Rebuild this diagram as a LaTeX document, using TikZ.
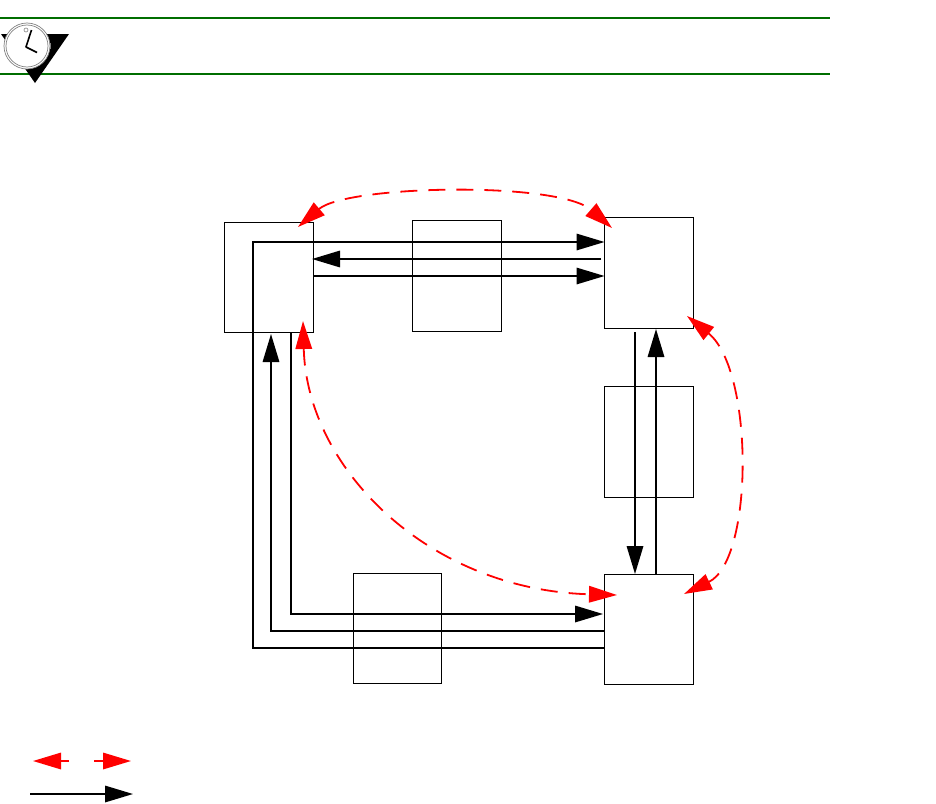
\documentclass[tikz,border=0pt]{standalone}
\usetikzlibrary{arrows.meta}
\definecolor{rulegreen}{RGB}{0,110,0}
\definecolor{clockgray}{RGB}{130,130,130}
\tikzset{
  x=1pt,y=-1pt,
  blockbox/.style={draw=black,line width=0.9pt,fill=none,inner sep=0pt,outer sep=0pt,minimum width=#1},
  flow/.style={draw=black,line width=1.6pt,-{Triangle[length=28pt,width=16.5pt]}},
  ctrl/.style={draw=red,line width=1.8pt,dash pattern=on 17pt off 11pt,{Triangle[length=28pt,width=16.5pt]}-{Triangle[length=28pt,width=16.5pt]}},
  ctrlsolid/.style={draw=red,line width=1.6pt,-{Triangle[length=28pt,width=16.5pt]}},
  greenrule/.style={draw=rulegreen,line width=1.8pt}
}
\begin{document}
\begin{tikzpicture}
\useasboundingbox (0,0) rectangle (936,803);
% header
\coordinate (r1a) at (0,18); \coordinate (r1b) at (830,18);
\coordinate (r2a) at (0,74); \coordinate (r2b) at (830,74);
\draw[greenrule] (r1a) -- (r1b);
\draw[greenrule] (r2a) -- (r2b);
\fill[black] (1,34) -- (69,34) -- (35,83) -- cycle;
\fill[white] (27,46) circle (23);
\draw[clockgray,line width=0.7pt] (27,46) circle (23);
\draw[clockgray,line width=0.7pt] (27,46) circle (21);
\fill[clockgray] (49.5,43) rectangle (51,49);
\draw[clockgray,line width=0.6pt] (26,30) circle (2);
\draw[black,line width=1.6pt,line join=round] (31.5,30) -- (26,47) -- (37,52.5);
% boxes
\node[blockbox=89pt,minimum height=110pt] (A) at (269,277) {};
\node[blockbox=89pt,minimum height=111pt] (B) at (456.5,275.5) {};
\node[blockbox=89pt,minimum height=111pt] (C) at (649,272.5) {};
\node[blockbox=89pt,minimum height=111pt] (D) at (649,441.5) {};
\node[blockbox=88pt,minimum height=110pt] (E) at (397.5,628) {};
\node[blockbox=89pt,minimum height=110pt] (F) at (649,629) {};
% black flows
\draw[flow] (F.west |- 0,648) -- (253,648) -- (253,242) -- (C.west |- 0,242);
\draw[flow] (601,259) -- (312,259);
\draw[flow] (A.east |- 0,276) -- (C.west |- 0,276);
\draw[flow] (635,332) -- (635,574);
\draw[flow] (656,574) -- (656,329);
\draw[flow] (F.west |- 0,631) -- (271,631) -- (271,334);
\draw[flow] (291,333) -- (291,614) -- (603,614);
% red control links
\draw[ctrl] (298,227) .. controls (347,185) and (558,181) .. (612,228);
\draw[ctrl] (303,321) .. controls (307,470) and (430,590) .. (617,595);
\draw[ctrl] (687,316) .. controls (754,370) and (754,560) .. (684,594);
% legend
\coordinate (L1a) at (69,761); \coordinate (L1b) at (33,761);
\coordinate (L2a) at (94,761); \coordinate (L2b) at (131,761);
\coordinate (L3a) at (30,794); \coordinate (L3b) at (133,794);
\draw[ctrlsolid] (L1a) -- (L1b);
\draw[ctrlsolid] (L2a) -- (L2b);
\draw[flow] (L3a) -- (L3b);
\end{tikzpicture}
\end{document}
